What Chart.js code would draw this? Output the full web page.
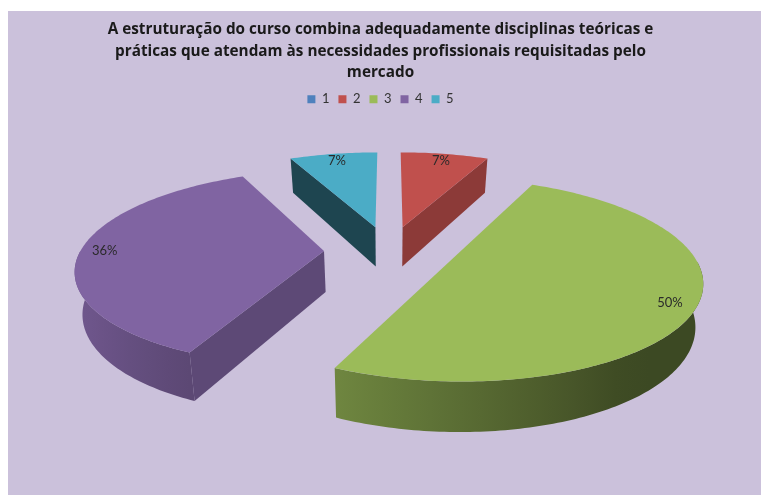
<!DOCTYPE html>
<html>
<head>
<meta charset="utf-8">
<script src="https://cdn.jsdelivr.net/npm/chart.js@4.4.1/dist/chart.umd.min.js"></script>
<style>
  html, body { margin: 0; padding: 0; background: #fff; }
  canvas { display: block; }
</style>
</head>
<body>
<canvas id="chart-pie" width="761" height="495"></canvas>
<script>
const titleLines = [
  "A estruturação do curso combina adequadamente disciplinas teóricas e",
  "práticas que atendam às necessidades profissionais requisitadas pelo",
  "mercado"
];
const categories = ["1", "2", "3", "4", "5"];
const shares = [0, 7, 50, 36, 7];
const sliceColors = ["#4F81BD", "#C0504D", "#9BBB59", "#8064A2", "#4BACC6"];

// fake 3d view of the pie (screen centre, radius, tilt, perspective, thickness, explode)
const view = { cx: 389, cy: 251, r: 243.6, tilt: 0.39, persp: 0.17, depth: 41, explode: 65 };

function rgb(hex) {
  const n = parseInt(hex.slice(1), 16);
  return [(n >> 16) & 255, (n >> 8) & 255, n & 255];
}
function shade(hex, f) {
  const c = rgb(hex).map((v) => Math.round(Math.min(255, v * f)));
  return "rgb(" + c.join(",") + ")";
}
function proj(X, Y, z) {
  const p = 1 / (1 + view.persp * Y / view.r);
  return [view.cx + X * p * (1 - 0.025 * z), view.cy - Y * view.tilt * p + z * view.depth * p];
}

const background = {
  id: "background",
  beforeDraw(chart) {
    const ctx = chart.ctx;
    ctx.save();
    ctx.fillStyle = "#ffffff";
    ctx.fillRect(0, 0, chart.width, chart.height);
    ctx.fillStyle = "#CBC1DB";
    ctx.fillRect(8, 11, chart.width - 8, chart.height - 11);
    ctx.restore();
  }
};

const pie3d = {
  id: "pie3d",
  beforeDatasetsDraw(chart) {
    const ctx = chart.ctx;
    const ds = chart.data.datasets[0];
    const total = ds.data.reduce((a, b) => a + b, 0);
    const slices = chart.getDatasetMeta(0).data.map((arc, i) => {
      const s = arc.startAngle + Math.PI / 2;
      const e = arc.endAngle + Math.PI / 2;
      const m = (s + e) / 2;
      return { i, s, e, m, ox: view.explode * Math.sin(m), oy: view.explode * Math.cos(m), color: ds.backgroundColor[i], value: ds.data[i] };
    }).filter((sl) => sl.e - sl.s > 1e-6);

    const pt = (sl, r, th, z) => proj(sl.ox + r * Math.sin(th), sl.oy + r * Math.cos(th), z);
    const step = Math.PI / 180;

    slices.slice().sort((a, b) => b.oy - a.oy).forEach((sl) => {
      ctx.save();
      // outer curved wall, front half only
      const a = Math.max(sl.s, Math.PI / 2), b = Math.min(sl.e, Math.PI * 1.5);
      if (b > a) {
        ctx.beginPath();
        const top = [], bot = [];
        for (let t = a; t < b; t += step) { top.push(pt(sl, view.r, t, 0)); bot.push(pt(sl, view.r, t, 1)); }
        top.push(pt(sl, view.r, b, 0)); bot.push(pt(sl, view.r, b, 1));
        top.forEach((q, k) => (k ? ctx.lineTo(q[0], q[1]) : ctx.moveTo(q[0], q[1])));
        bot.reverse().forEach((q) => ctx.lineTo(q[0], q[1]));
        ctx.closePath();
        const x0 = Math.min(top[0][0], top[top.length - 1][0]);
        const x1 = Math.max(top[0][0], top[top.length - 1][0]);
        const g = ctx.createLinearGradient(x0, 0, x1, 0);
        for (let t = a; t <= b + 1e-9; t += (b - a) / 12) {
          const x = pt(sl, view.r, t, 0)[0];
          const f = Math.min(0.86, Math.max(0.39, 0.58 - 0.32 * Math.sin(t)));
          g.addColorStop(Math.min(1, Math.max(0, (x - x0) / (x1 - x0 || 1))), shade(sl.color, f));
        }
        ctx.fillStyle = g;
        ctx.fill();
      }
      // radial walls that face the viewer
      const radial = (th, n) => {
        const c0 = pt(sl, 0, th, 0), o0 = pt(sl, view.r, th, 0), o1 = pt(sl, view.r, th, 1), c1 = pt(sl, 0, th, 1);
        ctx.beginPath();
        ctx.moveTo(c0[0], c0[1]); ctx.lineTo(o0[0], o0[1]); ctx.lineTo(o1[0], o1[1]); ctx.lineTo(c1[0], c1[1]);
        ctx.closePath();
        ctx.fillStyle = shade(sl.color, 0.565 + 0.18 * Math.sin(n));
        ctx.fill();
      };
      if (Math.sin(sl.s) < -1e-6) radial(sl.s, sl.s - Math.PI / 2);
      if (Math.sin(sl.e) > 1e-6) radial(sl.e, sl.e + Math.PI / 2);
      // top face
      ctx.beginPath();
      const c = pt(sl, 0, sl.s, 0);
      ctx.moveTo(c[0], c[1]);
      for (let t = sl.s; t < sl.e; t += step) { const q = pt(sl, view.r, t, 0); ctx.lineTo(q[0], q[1]); }
      const q = pt(sl, view.r, sl.e, 0);
      ctx.lineTo(q[0], q[1]);
      ctx.closePath();
      ctx.fillStyle = sl.color;
      ctx.fill();
      ctx.restore();
    });

    // percentage labels
    ctx.save();
    ctx.font = "13px Lato, 'Open Sans', sans-serif";
    ctx.fillStyle = "#2a2a2a";
    ctx.textAlign = "center";
    ctx.textBaseline = "middle";
    slices.forEach((sl) => {
      const p = pt(sl, view.r * 0.9, sl.m, 0);
      ctx.fillText(Math.round(sl.value / total * 100) + "%", p[0], p[1]);
    });
    ctx.restore();
    return false;
  }
};

new Chart(document.getElementById("chart-pie"), {
  type: "pie",
  data: {
    labels: categories,
    datasets: [{ data: shares, backgroundColor: sliceColors, borderWidth: 0 }]
  },
  options: {
    responsive: false,
    animation: false,
    plugins: {
      title: {
        display: true,
        text: titleLines,
        color: "#1a1a1a",
        font: { family: "'Open Sans', sans-serif", size: 15.3, weight: "bold", lineHeight: 1.41 },
        padding: { top: 19, bottom: 0 }
      },
      legend: {
        position: "top",
        labels: {
          boxWidth: 8,
          boxHeight: 8,
          padding: 9,
          color: "#333333",
          font: { family: "Lato, 'Open Sans', sans-serif", size: 13 }
        }
      },
      tooltip: { enabled: false }
    }
  },
  plugins: [background, pie3d]
});
</script>
</body>
</html>
